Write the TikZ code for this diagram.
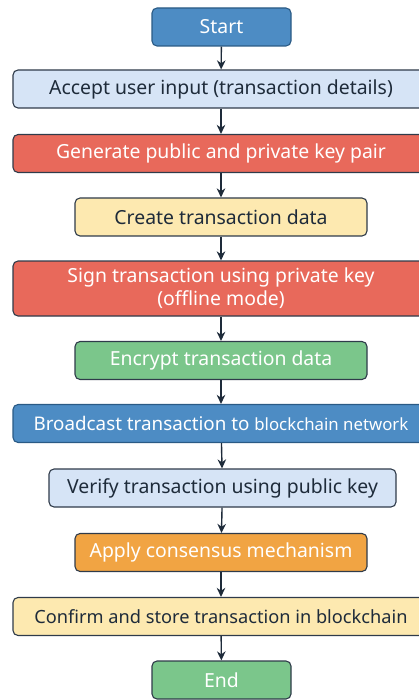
\documentclass[tikz,border=0pt]{standalone}
\usepackage{fontspec}
\setmainfont{Noto Sans}
\usetikzlibrary{arrows.meta,positioning}
\definecolor{flowblue}{HTML}{4D8CC4}
\definecolor{flowbluedk}{HTML}{2A5A85}
\definecolor{flowsky}{HTML}{D6E4F6}
\definecolor{flowred}{HTML}{E8695B}
\definecolor{flowsand}{HTML}{FDE9B0}
\definecolor{flowgreen}{HTML}{7BC68B}
\definecolor{floworange}{HTML}{F1A443}
\definecolor{flowink}{HTML}{1E2B3A}
\definecolor{flowedge}{HTML}{2F3B4A}
\tikzset{
  >={Stealth[length=3.2mm,width=3mm]},
  % boxes
  box/.style={rectangle,rounded corners=5pt,draw=flowedge,line width=1.1pt,
              minimum height=38pt,inner sep=2pt,align=center,
              font=\fontsize{19.4}{23}\selectfont,text=flowink},
  wide/.style={box,minimum width=416pt},
  mid/.style={box,minimum width=292pt},
  narrow/.style={box,minimum width=139pt},
  cblue/.style={fill=flowblue,draw=flowbluedk,text=white},
  csky/.style={fill=flowsky},
  cred/.style={fill=flowred,text=white},
  csand/.style={fill=flowsand},
  cgreen/.style={fill=flowgreen,text=white},
  corange/.style={fill=floworange,text=white},
  flow/.style={->,draw=flowink,line width=1.4pt},
}
\begin{document}
\begin{tikzpicture}[x=1pt,y=-1pt]
\useasboundingbox (0,0) rectangle (419,700);
  \node[narrow,cblue] (start) at (221.5,27) {Start};
  \node[wide,csky] (input) at (221,89) {Accept user input (transaction details)};
  \node[wide,cred] (keys) at (221,153.5) {Generate public and private key pair};
  \node[mid,csand] (create) at (221,217) {Create transaction data};
  \node[wide,cred,minimum height=55pt] (sign) at (221,288.5)
    {Sign transaction using private key\\(offline mode)};
  \node[mid,cgreen] (encrypt) at (221,360.5) {Encrypt transaction data};
  \node[wide,cblue,font=\fontsize{18.8}{22}\selectfont] (cast) at (221,423.5)
    {Broadcast transaction to {\fontsize{16.8}{20}\selectfont blockchain network}};
  \node[box,csky,minimum width=347pt] (verify) at (222.5,488) {Verify transaction using public key};
  \node[mid,corange] (consensus) at (221,552.5) {Apply consensus mechanism};
  \node[wide,csand,font=\fontsize{18.2}{22}\selectfont] (store) at (221,616.5)
    {Confirm and store transaction in blockchain};
  \node[narrow,cgreen] (end) at (221.5,680) {End};
  \draw[flow] (start) -- (input);
  \draw[flow] (input) -- (keys);
  \draw[flow] (keys) -- (create);
  \draw[flow] (create) -- (sign);
  \draw[flow] (sign) -- (encrypt);
  \draw[flow] (encrypt) -- (cast);
  \draw[flow] (cast) -- (verify);
  \draw[flow] (verify) -- (consensus);
  \draw[flow] (consensus) -- (store);
  \draw[flow] (store) -- (end);
\end{tikzpicture}
\end{document}
